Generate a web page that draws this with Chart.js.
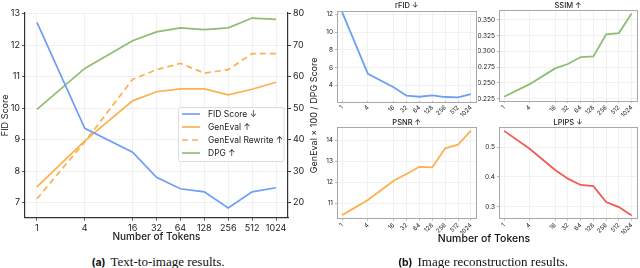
<!DOCTYPE html>
<html>
<head>
<meta charset="utf-8">
<script src="https://cdn.jsdelivr.net/npm/chart.js@4/dist/chart.umd.min.js"></script>
<style>
  body { margin: 0; width: 640px; height: 268px; background: #fff; position: relative; overflow: hidden; }
  canvas { position: absolute; }
  .cap { position: absolute; top: 254px; white-space: nowrap; transform: translateX(-50%); font-family: "Liberation Serif", serif; font-size: 13px; color: #111; }
  .cap b { font-family: Inter, "DejaVu Sans", sans-serif; font-weight: 700; font-size: 10.5px; margin-right: 5px; }
  .xt { position: absolute; top: 232px; transform: translateX(-50%); font-family: Inter, "DejaVu Sans", sans-serif; font-size: 10.5px; font-weight: 500; color: #111; white-space: nowrap; }
</style>
</head>
<body>
<canvas id="t2i" width="320" height="246" style="left:0;top:0"></canvas>
<canvas id="rfid" width="160" height="118" style="left:320px;top:0"></canvas>
<canvas id="ssim" width="162" height="118" style="left:478px;top:0"></canvas>
<canvas id="psnr" width="160" height="120" style="left:320px;top:116px"></canvas>
<canvas id="lpips" width="162" height="120" style="left:478px;top:116px"></canvas>
<div class="xt" style="left:484px">Number of Tokens</div>
<div class="cap" style="left:158px"><b>(a)</b>Text-to-image results.</div>
<div class="cap" style="left:483px"><b>(b)</b>Image reconstruction results.</div>
<script>
const tokens = [1, 4, 16, 32, 64, 128, 256, 512, 1024];

// (a) text-to-image
const fidScore = [12.72, 9.36, 8.6, 7.8, 7.44, 7.34, 6.83, 7.34, 7.47];
const genEval = [25.0, 39.6, 52.3, 55.2, 56.1, 56.1, 54.2, 56.0, 58.2];
const genEvalRewrite = [21.2, 39.3, 59.1, 62.2, 64.2, 61.1, 62.2, 67.3, 67.3];
const dpg = [49.6, 62.6, 71.4, 74.2, 75.5, 74.9, 75.5, 78.6, 78.2];
const fidTicks = [7, 8, 9, 10, 11, 12, 13];
const scoreTicks = [20, 30, 40, 50, 60, 70, 80];

// (b) reconstruction
const rFID = [12.26, 5.3, 3.78, 2.82, 2.7, 2.86, 2.67, 2.63, 3.0];
const ssim = [0.228, 0.248, 0.273, 0.280, 0.291, 0.292, 0.327, 0.329, 0.360];
const psnr = [10.44, 11.16, 12.08, 12.4, 12.74, 12.71, 13.62, 13.79, 14.46];
const lpips = [0.554, 0.494, 0.423, 0.394, 0.373, 0.369, 0.316, 0.299, 0.271];
const rfidTicks = [4, 6, 8, 10, 12];
const ssimTicks = [0.225, 0.25, 0.275, 0.3, 0.325, 0.35];
const psnrTicks = [11, 12, 13, 14];
const lpipsTicks = [0.3, 0.4, 0.5];

const SANS = 'Inter, "DejaVu Sans", sans-serif';
const BLUE = '#6e9df7', ORANGE = '#fcb04e', GREEN = '#8fbd70', RED = '#f25a57';

Chart.defaults.font.family = SANS;
Chart.defaults.color = '#222';

function pts(values) {
  return values.map((v, i) => ({ x: Math.log2(tokens[i]), y: v }));
}
function fixedTicks(values) {
  return scale => { scale.ticks = values.map(v => ({ value: v })); };
}
const xPositions = tokens.map(t => Math.log2(t));

// legend + right title for the left chart
const t2iExtras = {
  id: 't2iExtras',
  afterDraw(chart) {
    const ctx = chart.ctx;
    const a = chart.chartArea;
    ctx.save();
    // right axis title, reading upwards
    ctx.translate(314, (a.top + a.bottom) / 2);
    ctx.rotate(-Math.PI / 2);
    ctx.font = '9px ' + SANS;
    ctx.fillStyle = '#222';
    ctx.textAlign = 'center';
    ctx.textBaseline = 'middle';
    ctx.fillText('GenEval × 100 / DPG Score', 0, 0);
    ctx.restore();

    // legend box
    ctx.save();
    const bx = 178.5, by = 107.5, bw = 105.5, bh = 54;
    ctx.fillStyle = 'rgba(255,255,255,0.85)';
    ctx.strokeStyle = '#dcdcdc';
    ctx.lineWidth = 1;
    ctx.beginPath();
    ctx.roundRect(bx, by, bw, bh, 2);
    ctx.fill();
    ctx.stroke();
    ctx.font = '8.5px ' + SANS;
    ctx.textBaseline = 'middle';
    ctx.textAlign = 'left';
    chart.data.datasets.forEach((ds, i) => {
      const y = 114 + i * 13;
      ctx.strokeStyle = ds.borderColor;
      ctx.lineWidth = 1.6;
      ctx.setLineDash(ds.borderDash || []);
      ctx.beginPath();
      ctx.moveTo(182, y);
      ctx.lineTo(200, y);
      ctx.stroke();
      ctx.setLineDash([]);
      ctx.fillStyle = '#222';
      ctx.fillText(ds.label, 208, y);
    });
    ctx.restore();
  }
};

new Chart(document.getElementById('t2i'), {
  type: 'line',
  data: {
    datasets: [
      { label: 'FID Score ↓', data: pts(fidScore), yAxisID: 'y', borderColor: BLUE },
      { label: 'GenEval ↑', data: pts(genEval), yAxisID: 'y2', borderColor: ORANGE },
      { label: 'GenEval Rewrite ↑', data: pts(genEvalRewrite), yAxisID: 'y2', borderColor: ORANGE, borderDash: [6, 4] },
      { label: 'DPG ↑', data: pts(dpg), yAxisID: 'y2', borderColor: GREEN }
    ]
  },
  options: {
    responsive: false,
    animation: false,
    layout: { padding: { top: 13, right: 0, left: 0, bottom: 0 } },
    elements: { point: { radius: 0 }, line: { borderWidth: 1.7, tension: 0 } },
    plugins: { legend: { display: false }, tooltip: { enabled: false } },
    scales: {
      x: {
        type: 'linear', min: -0.5, max: 10.5,
        afterBuildTicks: fixedTicks(xPositions),
        afterFit: s => { s.height = 28.3; },
        ticks: { callback: v => String(Math.round(2 ** v)), font: { size: 9 }, padding: 2, maxRotation: 0, autoSkip: false },
        grid: { color: '#ececec', lineWidth: 0.8, tickLength: 3, tickColor: '#333' },
        border: { color: '#333', width: 1.2 },
        title: { display: true, text: 'Number of Tokens', font: { size: 10, weight: 500 }, padding: { top: 3, bottom: 3 } }
      },
      y: {
        position: 'left', min: 6.52, max: 13.02,
        afterBuildTicks: fixedTicks(fidTicks),
        afterFit: s => { s.width = 25; },
        ticks: { font: { size: 9 }, padding: 2 },
        grid: { color: '#ececec', lineWidth: 0.8, tickLength: 3, tickColor: '#333' },
        border: { color: '#333', width: 1.2 },
        title: { display: true, text: 'FID Score', font: { size: 9 }, padding: 0 }
      },
      y2: {
        position: 'right', min: 15.2, max: 80.2,
        afterBuildTicks: fixedTicks(scoreTicks),
        afterFit: s => { s.width = 32; },
        ticks: { font: { size: 9 }, padding: 2 },
        grid: { drawOnChartArea: false, tickLength: 3, tickColor: '#333' },
        border: { color: '#333', width: 1.2 }
      }
    }
  },
  plugins: [t2iExtras]
});

// frame + title for the small panels
const panelFrame = {
  id: 'panelFrame',
  afterDraw(chart, args, opts) {
    const a = chart.chartArea, ctx = chart.ctx;
    ctx.save();
    ctx.strokeStyle = '#a8a8a8';
    ctx.lineWidth = 1;
    ctx.strokeRect(Math.round(a.left) + 0.5, Math.round(a.top) + 0.5, Math.round(a.right - a.left), Math.round(a.bottom - a.top));
    ctx.fillStyle = '#222';
    ctx.font = '500 7.5px ' + SANS;
    ctx.textAlign = 'center';
    ctx.textBaseline = 'bottom';
    ctx.fillText(opts.title, (a.left + a.right) / 2, a.top - 1);
    ctx.restore();
  }
};

function makePanel(id, title, values, color, yMin, yMax, yTicks, digits, axisW, topPad, xAxisH, rightPad) {
  new Chart(document.getElementById(id), {
    type: 'line',
    data: { datasets: [{ data: pts(values), borderColor: color }] },
    options: {
      responsive: false,
      animation: false,
      layout: { padding: { top: topPad, right: rightPad, left: 0, bottom: 0 } },
      elements: { point: { radius: 0 }, line: { borderWidth: 1.8, tension: 0 } },
      plugins: { legend: { display: false }, tooltip: { enabled: false }, panelFrame: { title: title } },
      scales: {
        x: {
          type: 'linear', min: -0.4, max: 10.42,
          afterBuildTicks: fixedTicks(xPositions),
          afterFit: s => { s.height = xAxisH; },
          ticks: { callback: v => String(Math.round(2 ** v)), font: { size: 6 }, padding: 1, minRotation: 45, maxRotation: 45, autoSkip: false },
          grid: { color: '#eeeeee', lineWidth: 0.8, tickLength: 2, tickColor: '#a8a8a8' },
          border: { display: false }
        },
        y: {
          min: yMin, max: yMax,
          afterBuildTicks: fixedTicks(yTicks),
          afterFit: s => { s.width = axisW; },
          ticks: { callback: v => v.toFixed(digits), font: { size: 6.5 }, padding: 2 },
          grid: { color: '#eeeeee', lineWidth: 0.8, tickLength: 2, tickColor: '#a8a8a8' },
          border: { display: false }
        }
      }
    },
    plugins: [panelFrame]
  });
}

makePanel('rfid', 'rFID ↓', rFID, BLUE, 2.22, 12.45, rfidTicks, 0, 17, 10.5, 17, 3.7);
makePanel('ssim', 'SSIM ↑', ssim, GREEN, 0.2213, 0.3656, ssimTicks, 3, 21, 10, 17, 3);
makePanel('psnr', 'PSNR ↑', psnr, ORANGE, 10.27, 14.62, psnrTicks, 0, 17, 11.3, 17.3, 3.7);
makePanel('lpips', 'LPIPS ↓', lpips, RED, 0.26, 0.566, lpipsTicks, 1, 21, 11.3, 17.3, 3);
</script>
</body>
</html>
